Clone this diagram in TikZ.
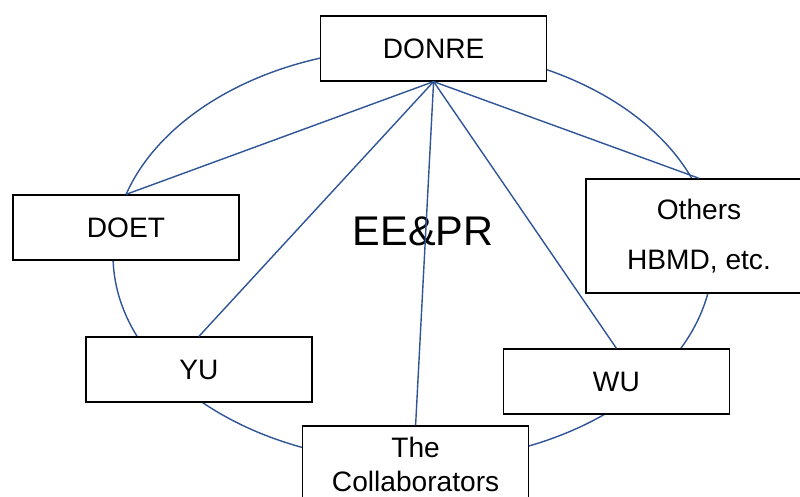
\documentclass[tikz,border=0pt]{standalone}
\usepackage{fontspec}
\setmainfont{Liberation Sans}
\usepackage{tikz}

\definecolor{linkblue}{RGB}{47,85,151}

\begin{document}
\begin{tikzpicture}[
		box/.style={draw,fill=white,line width=1pt,minimum width=5.65cm,minimum height=1.625cm,inner sep=0pt,align=center,font=\fontsize{20}{24}\selectfont},
		link/.style={linkblue,line width=1pt}]
		\clip (0,0) rectangle (20,12.4);
		\draw [link](10.325,6.025)ellipse(7.5 and 5.175);
		\node[anchor=base,font=\fontsize{29.5}{34}\selectfont] (eepr) at (10.575,6.275) {EE\&PR};
		% boxes round the ring
		\node[box] (donre) at (10.84,11.19) {DONRE};
		\node[box] (doet) at (3.15,6.71) {DOET};
		\node[box,minimum height=2.85cm,font=\fontsize{20}{35.5}\selectfont] (others) at (17.475,6.5) {Others\\HBMD, etc.};
		\node[box] (yu) at (4.975,3.1625) {YU};
		\node[box] (wu) at (15.41,2.8625) {WU};
		\node[box,minimum height=1.925cm] (collab) at (10.39,0.7875) {The\\Collaborators};
		% spokes from DONRE
		\foreach \n in {doet,yu,collab,wu,others}
			\draw [link](donre.south)--(\n.north);
	\end{tikzpicture}
\end{document}
